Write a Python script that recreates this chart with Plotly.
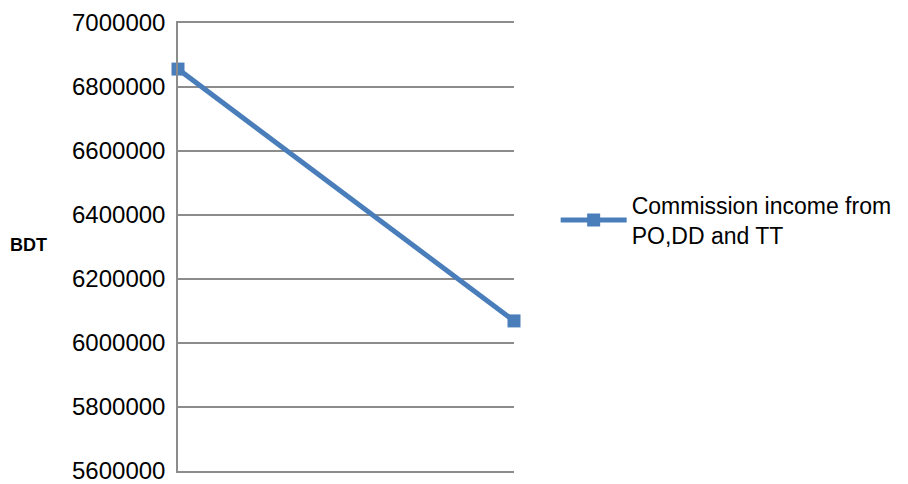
import plotly.graph_objects as go

categories = [0, 1]
values = [6856000, 6069000]
series_name = "Commission income from<br>PO,DD and TT"
y_ticks = [5600000, 5800000, 6000000, 6200000, 6400000, 6600000, 6800000, 7000000]

fig = go.Figure()
fig.add_trace(go.Scatter(
    x=categories, y=values, mode="lines+markers", name=series_name,
    line=dict(color="#4A7EBB", width=5),
    marker=dict(symbol="square", size=13, color="#4A7EBB"),
    cliponaxis=False,
))

# page body has an 8px default margin, so the figure is drawn 8px smaller
fig.update_layout(
    width=900, height=476,
    margin=dict(l=170, r=394, t=15, b=13, autoexpand=False),
    paper_bgcolor="white", plot_bgcolor="white",
    font=dict(family="Liberation Sans", color="black"),
    showlegend=True,
    legend=dict(x=1.124, y=0.56, xanchor="left", yanchor="middle",
                font=dict(size=23), itemwidth=66, bgcolor="rgba(0,0,0,0)"),
    xaxis=dict(range=[0, 1], showticklabels=False, showgrid=False, zeroline=False,
               showline=True, mirror=True, linecolor="#8C8C8C", linewidth=1.5, ticks=""),
    yaxis=dict(range=[5600000, 7000000], tickvals=y_ticks, tickformat="d",
               tickfont=dict(size=24), showgrid=True, gridcolor="#8C8C8C", gridwidth=1.5,
               showline=True, linecolor="#8C8C8C", linewidth=1.5, zeroline=False,
               ticks="", ticklen=0, ticklabelstandoff=6, ticklabeloverflow="allow"),
)
fig.add_annotation(text="<b>BDT</b>", xref="paper", yref="paper", x=-0.446, y=0.504,
                   showarrow=False, font=dict(size=18, family="Liberation Sans"),
                   xanchor="center", yanchor="middle")

fig.write_html("out.html")
